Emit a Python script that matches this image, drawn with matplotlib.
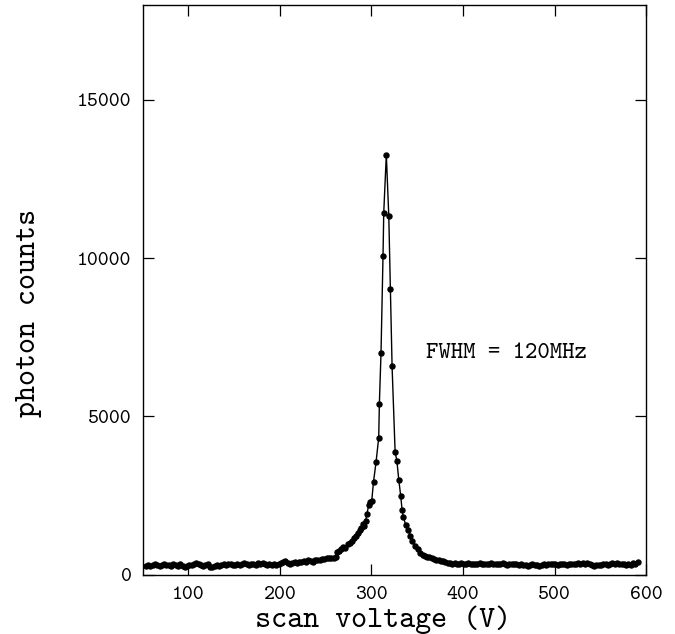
import matplotlib
matplotlib.use("Agg")
import matplotlib.pyplot as plt

# ============================
# Data
# ============================
# left baseline
volt_left = [53.5, 56.0, 58.5, 61.0, 63.5, 66.0, 68.5, 71.0, 73.5, 76.0,
             78.5, 81.0, 83.5, 86.0, 88.5, 91.0, 93.5, 96.0, 98.5, 101.0,
             103.5, 106.0, 108.5, 111.0, 113.5, 116.0, 118.5, 121.0, 123.5, 126.0,
             128.5, 131.0, 133.5, 136.0, 138.5, 141.0, 143.5, 146.0, 148.5, 151.0,
             153.5, 156.0, 158.5, 161.0, 163.5, 166.0, 168.5, 171.0, 173.5, 176.0,
             178.5, 181.0, 183.5, 186.0, 188.5, 191.0, 193.5, 196.0, 198.5, 201.0,
             203.5, 206.0, 208.5, 211.0, 213.5, 216.0, 218.5, 221.0, 223.5, 226.0,
             228.5, 231.0, 233.5, 236.0, 238.5, 241.0, 243.5, 246.0, 248.5, 251.0,
             253.5, 256.0, 258.5, 261.0]
counts_left = [280, 300, 270, 310, 330, 290, 270, 300, 320, 290,
               310, 280, 330, 300, 270, 320, 280, 250, 270, 290,
               300, 320, 380, 350, 300, 260, 290, 340, 250, 240,
               270, 300, 280, 310, 330, 300, 340, 320, 290, 310,
               330, 300, 350, 380, 340, 310, 330, 350, 310, 360,
               340, 370, 330, 300, 330, 310, 340, 300, 330, 360,
               390, 440, 380, 350, 380, 400, 370, 410, 390, 420,
               400, 450, 430, 410, 450, 470, 460, 500, 480, 520,
               510, 540, 520, 560]

# peak region
volt_peak = [262.5, 264.5, 267.0, 269.0, 271.5, 274.0, 276.0, 278.5, 281.0, 283.0,
             285.5, 287.5, 289.0, 290.5, 292.0, 293.5, 295.0, 297.0, 298.5, 300.3,
             302.2, 305.0, 307.9, 308.6, 310.4, 312.6, 313.4, 316.2, 318.9, 320.6,
             322.5, 325.8, 327.8, 329.8, 332.0, 333.4, 334.8, 337.3, 339.8, 342.4,
             344.6, 347.8, 350.8, 353.3, 355.8, 358.3, 360.8, 363.3, 365.8, 368.3,
             370.8, 373.3, 375.8, 378.3, 380.8, 383.3, 385.8, 388.3, 390.8, 393.3,
             395.8, 398.3]
counts_peak = [700, 740, 820, 880, 850, 960, 1010, 1070, 1160, 1230,
               1310, 1400, 1480, 1590, 1540, 1700, 1920, 2200, 2300, 2340,
               2930, 3560, 4330, 5390, 7000, 10080, 11440, 13270, 11330, 9020,
               6580, 3890, 3580, 3000, 2470, 2050, 1820, 1580, 1420, 1230,
               1050, 900, 800, 680, 620, 590, 570, 550, 520, 490,
               470, 450, 430, 420, 400, 380, 360, 340, 360, 330,
               350, 370]

# right baseline
volt_right = [400.8, 403.3, 405.8, 408.3, 410.8, 413.3, 415.8, 418.3, 420.8, 423.3,
              425.8, 428.3, 430.8, 433.3, 435.8, 438.3, 440.8, 443.3, 445.8, 448.3,
              450.8, 453.3, 455.8, 458.3, 460.8, 463.3, 465.8, 468.3, 470.8, 473.3,
              475.8, 478.3, 480.8, 483.3, 485.8, 488.3, 490.8, 493.3, 495.8, 498.3,
              500.8, 503.3, 505.8, 508.3, 510.8, 513.3, 515.8, 518.3, 520.8, 523.3,
              525.8, 528.3, 530.8, 533.3, 535.8, 538.3, 540.8, 543.3, 545.8, 548.3,
              550.8, 553.3, 555.8, 558.3, 560.8, 563.3, 565.8, 568.3, 570.8, 573.3,
              575.8, 578.3, 580.8, 583.3, 585.8, 588.3, 590.8]
counts_right = [350, 330, 360, 340, 320, 350, 340, 370, 330, 350,
                320, 340, 360, 330, 350, 320, 340, 360, 330, 310,
                340, 320, 350, 330, 300, 320, 290, 310, 280, 300,
                320, 290, 310, 270, 300, 320, 290, 330, 350, 320,
                340, 310, 330, 350, 320, 300, 330, 350, 320, 340,
                370, 350, 380, 340, 360, 330, 300, 280, 300, 290,
                310, 320, 340, 310, 350, 370, 340, 360, 330, 350,
                320, 300, 320, 290, 380, 330, 390]

voltage = volt_left + volt_peak + volt_right
counts = counts_left + counts_peak + counts_right

x_ticks = [100, 200, 300, 400, 500, 600]
y_ticks = [0, 5000, 10000, 15000]

# ============================
# Plot
# ============================
plt.rcParams["font.family"] = ["cmtt10", "DejaVu Sans Mono"]

fig = plt.figure(figsize=(6.75, 6.34), dpi=100)
ax = fig.add_axes([0.2114, 0.0937, 0.7457, 0.8984])

ax.plot(voltage, counts, color="black", linewidth=1.0,
        marker="o", markersize=3.6, markerfacecolor="black",
        markeredgecolor="black")

ax.set_xlim(50, 600)
ax.set_ylim(0, 18000)
ax.set_xticks(x_ticks, labels=[str(v) for v in x_ticks], fontfamily="cmtt10")
ax.set_yticks(y_ticks, labels=[str(v) for v in y_ticks], fontfamily="cmtt10")
ax.tick_params(direction="in", top=True, right=True, length=8, width=0.9,
               labelsize=15, pad=8)
for s in ax.spines.values():
    s.set_linewidth(1.0)

ax.set_xlabel("scan voltage (V)", fontsize=22, va="center")
ax.xaxis.set_label_coords(0.478, -0.08)
ax.set_ylabel("photon counts", fontsize=22, va="center")
ax.yaxis.set_label_coords(-0.226, 0.46)

ax.text(360, 7000, "FWHM = 120MHz", fontsize=17, va="center", ha="left")

plt.savefig("out.png", dpi=100)
plt.close()
print("Saved: out.png")
